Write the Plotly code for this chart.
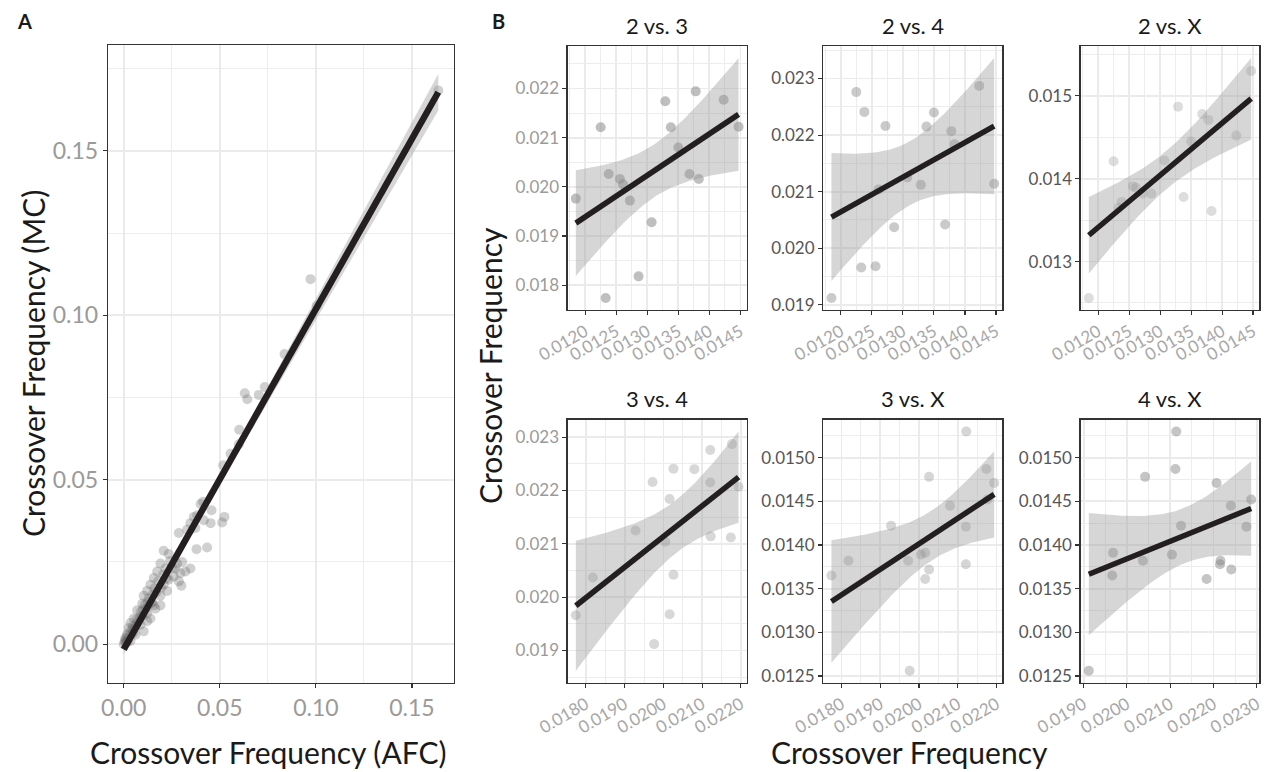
import numpy as np
import plotly.graph_objects as go

# ---------------- Panel A data: AFC vs MC crossover frequency ----------------
afc = [0.1637, 0.0972, 0.1004, 0.0837, 0.0734, 0.0703, 0.0630, 0.0643, 0.0601, 0.0599,
       0.0556, 0.0518, 0.0524, 0.0512, 0.0457, 0.0452, 0.0413, 0.0400, 0.0417, 0.0382,
       0.0365, 0.0373, 0.0347, 0.0330, 0.0287, 0.0379, 0.0434, 0.0208, 0.0234, 0.0278,
       0.0304, 0.0347, 0.0295, 0.0321, 0.0300, 0.0260, 0.0191, 0.0174, 0.0156, 0.0139,
       0.0208, 0.0226, 0.0191, 0.0122, 0.0104, 0.0148, 0.0165, 0.0096, 0.0070, 0.0122,
       0.0139, 0.0052, 0.0035, 0.0087, 0.0104, 0.0026, 0.0061, 0.0017, 0.0009, 0.0000,
       0.0035, 0.0050, 0.0122, 0.0156, 0.0191, 0.0234, 0.0269, 0.0217, 0.0287,
       0.0005, 0.0012, 0.0015, 0.0022, 0.0030, 0.0040, 0.0048, 0.0058, 0.0068, 0.0078,
       0.0088, 0.0098, 0.0110, 0.0118, 0.0130, 0.0142, 0.0160, 0.0170, 0.0180, 0.0195,
       0.0205, 0.0222, 0.0240, 0.0252, 0.0008, 0.0020, 0.0045, 0.0065, 0.0085, 0.0100,
       0.0125, 0.0150]
mc = [0.1684, 0.1110, 0.1029, 0.0882, 0.0782, 0.0758, 0.0763, 0.0745, 0.0652, 0.0608,
      0.0579, 0.0544, 0.0387, 0.0370, 0.0407, 0.0368, 0.0433, 0.0426, 0.0377, 0.0392,
      0.0387, 0.0353, 0.0368, 0.0348, 0.0338, 0.0289, 0.0294, 0.0284, 0.0274, 0.0245,
      0.0250, 0.0230, 0.0216, 0.0221, 0.0178, 0.0206, 0.0245, 0.0221, 0.0201, 0.0181,
      0.0181, 0.0162, 0.0147, 0.0162, 0.0147, 0.0127, 0.0108, 0.0123, 0.0103, 0.0093,
      0.0078, 0.0078, 0.0064, 0.0059, 0.0039, 0.0049, 0.0029, 0.0029, 0.0010, 0.0000,
      0.0010, 0.0035, 0.0070, 0.0118, 0.0118, 0.0196, 0.0230, 0.0230, 0.0191,
      0.0008, 0.0004, 0.0020, 0.0015, 0.0036, 0.0032, 0.0055, 0.0050, 0.0076, 0.0070,
      0.0098, 0.0086, 0.0120, 0.0108, 0.0140, 0.0125, 0.0170, 0.0158, 0.0192, 0.0172,
      0.0212, 0.0200, 0.0252, 0.0232, 0.0018, 0.0008, 0.0045, 0.0060, 0.0082, 0.0105,
      0.0128, 0.0150]

# ---------------- Panel B data: per-sample chromosome crossover frequencies ----------------
chr2 = [0.01185, 0.01225, 0.01233, 0.01238, 0.01256, 0.01261, 0.01272, 0.01286, 0.01307,
        0.01329, 0.01338, 0.01350, 0.01368, 0.01378, 0.01383, 0.01423, 0.01447]
chr3 = [0.01976, 0.02121, 0.01774, 0.02026, 0.02016, 0.02005, 0.01972, 0.01818, 0.01928,
        0.02174, 0.02121, 0.02080, 0.02026, 0.02194, 0.02016, 0.02177, 0.02122]
chr4 = [0.01912, 0.02276, 0.01966, 0.02241, 0.01968, 0.02104, 0.02216, 0.02037, 0.02125,
        0.02112, 0.02215, 0.02240, 0.02042, 0.02207, 0.02184, 0.02287, 0.02114]
chrX = [0.01256, 0.01421, 0.01365, 0.01372, 0.01391, 0.01389, 0.01382, 0.01382, 0.01422,
        0.01487, 0.01378, 0.01445, 0.01478, 0.01471, 0.01361, 0.01452, 0.01530]

pair_titles = ["2 vs. 3", "2 vs. 4", "2 vs. X", "3 vs. 4", "3 vs. X", "4 vs. X"]
pairs = [(chr2, chr3), (chr2, chr4), (chr2, chrX), (chr3, chr4), (chr3, chrX), (chr4, chrX)]

W, H = 1266, 772
FONT = "Lato"


def px_x(p):
    return p / W


def px_y(p):
    return 1 - p / H


def tq(df):
    z = 1.959963985
    return (z + (z**3 + z) / (4 * df) + (5 * z**5 + 16 * z**3 + 3 * z) / (96 * df**2)
            + (3 * z**7 + 19 * z**5 + 17 * z**3 - 15 * z) / (384 * df**3))


def lm_fit(x, y):
    x = np.asarray(x, float)
    y = np.asarray(y, float)
    n = len(x)
    b1, b0 = np.polyfit(x, y, 1)
    xs = np.linspace(x.min(), x.max(), 80)
    yh = b0 + b1 * xs
    res = y - (b0 + b1 * x)
    s = np.sqrt(np.sum(res**2) / (n - 2))
    xm = x.mean()
    se = s * np.sqrt(1.0 / n + (xs - xm) ** 2 / np.sum((x - xm) ** 2))
    t = tq(n - 2)
    return xs, yh, yh - t * se, yh + t * se


def ranges(x, y, lo, hi):
    x0, x1 = min(x), max(x)
    y0, y1 = min(min(y), lo.min()), max(max(y), hi.max())
    dx, dy = (x1 - x0) * 0.05, (y1 - y0) * 0.05
    return [x0 - dx, x1 + dx], [y0 - dy, y1 + dy]


fig = go.Figure()

panels = []
# panel A
panels.append(dict(x=afc, y=mc, dom_x=(108, 454), dom_y=(45, 683),
                   pt_color="rgba(100,100,100,0.30)", pt_size=10, lw=6.5,
                   xd=0.05, xt0=0, xminor=0.025, xfmt=".2f",
                   yd=0.05, yt0=0, yminor=0.025, yfmt=".2f",
                   tickfont=23, xtickcolor="#9A9A9A", ytickcolor="#9A9A9A", angle=0))

cols = [(567.7, 746.7), (823.3, 1002.3), (1080.7, 1259.3)]
rows = [(46, 310), (419.5, 682.7)]
pt_cols = ["rgba(128,128,128,0.50)", "rgba(128,128,128,0.42)", "rgba(128,128,128,0.27)",
           "rgba(128,128,128,0.31)", "rgba(128,128,128,0.32)", "rgba(128,128,128,0.46)"]
ytc = ["#9A9A9A", "#555555", "#555555", "#9A9A9A", "#555555", "#555555"]
xspec = [(0.0005, 0.012, 0.00025), (0.0005, 0.012, 0.00025), (0.0005, 0.012, 0.00025),
         (0.001, 0.018, 0.0005), (0.001, 0.018, 0.0005), (0.001, 0.019, 0.0005)]
yspec = [(0.001, 0.018, 0.0005, ".3f"), (0.001, 0.019, 0.0005, ".3f"), (0.001, 0.013, 0.0005, ".3f"),
         (0.001, 0.019, 0.0005, ".3f"), (0.0005, 0.0125, 0.00025, ".4f"), (0.0005, 0.0125, 0.00025, ".4f")]
for i, (xa, ya) in enumerate(pairs):
    r, c = divmod(i, 3)
    panels.append(dict(x=xa, y=ya, dom_x=cols[c], dom_y=rows[r], pt_color=pt_cols[i], pt_size=10, lw=5.5,
                       xd=xspec[i][0], xt0=xspec[i][1], xminor=xspec[i][2], xfmt=".4f",
                       yd=yspec[i][0], yt0=yspec[i][1], yminor=yspec[i][2], yfmt=yspec[i][3],
                       tickfont=17, xtickcolor="#A8A8A8", ytickcolor=ytc[i], angle=-30,
                       title=pair_titles[i]))

annotations = []
for k, p in enumerate(panels):
    n = k + 1
    xs, yh, lo, hi = lm_fit(p["x"], p["y"])
    xr, yr = ranges(p["x"], p["y"], lo, hi)
    xref = "x" if n == 1 else f"x{n}"
    yref = "y" if n == 1 else f"y{n}"
    # points
    fig.add_trace(go.Scatter(x=p["x"], y=p["y"], mode="markers", xaxis=xref, yaxis=yref,
                             marker=dict(size=p["pt_size"], color=p["pt_color"], line=dict(width=0)),
                             showlegend=False, hoverinfo="skip"))
    # CI ribbon
    fig.add_trace(go.Scatter(x=np.concatenate([xs, xs[::-1]]), y=np.concatenate([hi, lo[::-1]]),
                             mode="lines", fill="toself", fillcolor="rgba(153,153,153,0.4)",
                             line=dict(width=0), xaxis=xref, yaxis=yref,
                             showlegend=False, hoverinfo="skip"))
    # fitted line
    fig.add_trace(go.Scatter(x=xs, y=yh, mode="lines", line=dict(color="#231F20", width=p["lw"]),
                             xaxis=xref, yaxis=yref, showlegend=False, hoverinfo="skip"))

    axcommon = dict(showline=True, mirror=True, linecolor="#333333", linewidth=1.3,
                    ticks="outside", ticklen=4, tickwidth=1.1, tickcolor="#333333",
                    showgrid=True, gridcolor="#EBEBEB", gridwidth=1.8, zeroline=False,
                    tickmode="linear", automargin=False)
    xax = dict(axcommon, domain=[px_x(p["dom_x"][0]), px_x(p["dom_x"][1])], range=xr,
               anchor=yref, tick0=p["xt0"], dtick=p["xd"], tickformat=p["xfmt"],
               tickangle=p["angle"],
               tickfont=dict(family=FONT, size=p["tickfont"], color=p["xtickcolor"]),
               minor=dict(dtick=p["xminor"], tick0=p["xt0"], showgrid=True, gridcolor="#EDEDED",
                          gridwidth=1.0, ticks=""))
    yax = dict(axcommon, domain=[px_y(p["dom_y"][1]), px_y(p["dom_y"][0])], range=yr,
               anchor=xref, tick0=p["yt0"], dtick=p["yd"], tickformat=p["yfmt"],
               tickfont=dict(family=FONT, size=p["tickfont"], color=p["ytickcolor"]),
               minor=dict(dtick=p["yminor"], tick0=p["yt0"], showgrid=True, gridcolor="#EDEDED",
                          gridwidth=1.0, ticks=""))
    fig.update_layout(**{("xaxis" if n == 1 else f"xaxis{n}"): xax,
                         ("yaxis" if n == 1 else f"yaxis{n}"): yax})
    if "title" in p:
        cx = (p["dom_x"][0] + p["dom_x"][1]) / 2
        annotations.append(dict(x=px_x(cx), y=px_y(p["dom_y"][0] - 21), xref="paper", yref="paper",
                                text=p["title"], showarrow=False, xanchor="center", yanchor="middle",
                                font=dict(family=FONT, size=22, color="#1A1A1A")))

# axis titles and panel labels
annotations += [
    dict(x=px_x(33), y=px_y(364), text="Crossover Frequency (MC)", textangle=-90,
         font=dict(family=FONT, size=30, color="#1A1A1A")),
    dict(x=px_x(268), y=px_y(752), text="Crossover Frequency (AFC)",
         font=dict(family=FONT, size=30, color="#1A1A1A")),
    dict(x=px_x(490), y=px_y(366), text="Crossover Frequency", textangle=-90,
         font=dict(family=FONT, size=30, color="#1A1A1A")),
    dict(x=px_x(910), y=px_y(752), text="Crossover Frequency",
         font=dict(family=FONT, size=30, color="#1A1A1A")),
    dict(x=px_x(24), y=px_y(21), text="<b>A</b>", font=dict(family=FONT, size=20, color="#1A1A1A")),
    dict(x=px_x(498), y=px_y(21), text="<b>B</b>", font=dict(family=FONT, size=20, color="#1A1A1A")),
]
for a in annotations[-6:]:
    a.update(xref="paper", yref="paper", showarrow=False, xanchor="center", yanchor="middle")

fig.update_layout(width=W, height=H, margin=dict(l=0, r=0, t=0, b=0, autoexpand=False),
                  paper_bgcolor="white", plot_bgcolor="white",
                  annotations=annotations, showlegend=False,
                  font=dict(family=FONT))

fig.write_html("out.html", config={"displayModeBar": False, "staticPlot": True},
               post_script="document.body.style.margin='0';document.body.style.padding='0';"
                           "document.body.style.overflow='hidden';")
